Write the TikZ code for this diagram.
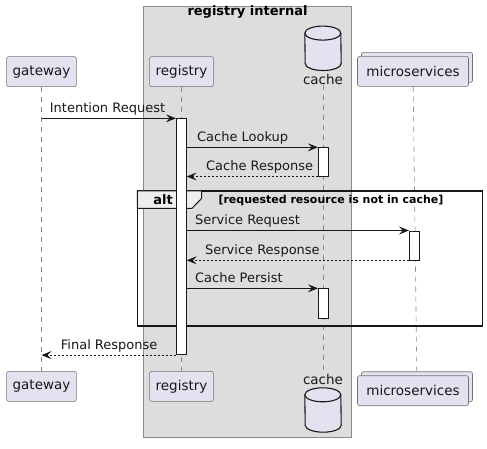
\documentclass[tikz,border=0pt]{standalone}
\usepackage{fontspec}
\setmainfont{DejaVu Sans}
\usetikzlibrary{arrows.meta,positioning}
\definecolor{cPart}{HTML}{E2E2F0}
\definecolor{cInk}{HTML}{181818}
\definecolor{cGroup}{HTML}{DDDDDD}
\definecolor{cTab}{HTML}{EEEEEE}
\definecolor{cLine}{HTML}{8A8A8A}
\tikzset{
  part/.style={draw=cInk!60,fill=cPart,rounded corners=2pt,line width=0.6pt,font=\fontsize{13.5}{16}\selectfont,minimum height=30pt,inner xsep=6pt,inner ysep=0pt,text=cInk},
  dbase/.style={minimum width=36pt,minimum height=44pt,inner sep=0pt},
  drum/.style={draw=cInk,fill=cPart,line width=1.1pt},
  dblbl/.style={font=\fontsize{13.5}{16}\selectfont,inner sep=0pt,text=cInk},
  life/.style={draw=cLine,dash pattern=on 5pt off 5pt,line width=0.6pt},
  act/.style={draw=cInk,fill=white,line width=0.8pt,minimum width=10pt,inner sep=0pt,anchor=north},
  msg/.style={-{Stealth[length=10pt,width=8pt,inset=4pt]},line width=0.8pt,draw=cInk},
  ret/.style={msg,dash pattern=on 2pt off 2pt},
  lbl/.style={font=\fontsize{13}{15}\selectfont,anchor=base west,inner sep=0pt,text=cInk},
}
% database drum drawn round a named node
\newcommand\drumat[1]{%
  \filldraw[drum] ([yshift=-7pt]#1.north west) arc[start angle=180,end angle=0,x radius=18pt,y radius=7pt]
    -- ([yshift=7pt]#1.south east) arc[start angle=0,end angle=-180,x radius=18pt,y radius=7pt] -- cycle;
  \draw[drum,fill=none] ([yshift=-7pt]#1.north west) arc[start angle=180,end angle=360,x radius=18pt,y radius=7pt];}

\begin{document}
\begin{tikzpicture}[x=1pt,y=-1pt]
  \useasboundingbox (0,0) rectangle (487,449);
  % registry internal box
  \draw[fill=cGroup,draw=cLine,line width=0.8pt] (143.3,6) rectangle (351.7,437.3);
  \node[font=\fontsize{13}{15}\selectfont\bfseries,anchor=base,inner sep=0pt] (grptitle) at (247.5,15.5) {registry internal};

  % participants, top and bottom
  \node[part] (gwtop) at (41.5,71.7) {gateway};
  \node[part] (gwbot) at (41.5,386.4) {gateway};
  \node[part] (regtop) at (181.5,71.7) {registry};
  \node[part] (regbot) at (181.5,386.4) {registry};
  \node[dbase] (cachetop) at (323,48.3) {};
  \drumat{cachetop}
  \node[dblbl,below=3.5pt of cachetop] (cachetoplbl) {cache};
  \node[dbase] (cachebot) at (323,410) {};
  \drumat{cachebot}
  \node[dblbl,above=3.4pt of cachebot] (cachebotlbl) {cache};
  \node[part,minimum width=111pt] (msback) at (417,67.4) {};
  \node[part,minimum width=111pt] (mstop) at (413,71.4) {microservices};
  \node[part,minimum width=111pt] (msbback) at (417,386.7) {};
  \node[part,minimum width=111pt] (msbot) at (413,390.7) {microservices};

  % lifelines
  \draw[life] (gwtop) -- (gwbot);
  \draw[life] (regtop) -- (regbot);
  \draw[life] (cachetoplbl) -- (cachebotlbl);
  \draw[life] (mstop) -- (msbback);

  % alt frame
  \draw[line width=1.5pt,draw=cInk] (137.3,191) rectangle (482.7,326);
  \filldraw[fill=cTab,draw=cInk,line width=1pt] (137.3,191) -- (201.7,191) -- (201.7,198.3) -- (192,208.3) -- (137.3,208.3) -- cycle;
  \node[font=\fontsize{13}{15}\selectfont\bfseries,anchor=base,inner sep=0pt] (alttag) at (163,204.3) {alt};
  \node[font=\fontsize{11}{13}\selectfont\bfseries,anchor=base west,inner sep=0pt] (altcond) at (218.3,204) {[requested resource is not in cache]};

  % activations
  \node[act,minimum height=236pt] (regact) at (181.3,118.3) {};
  \node[act,minimum height=28.4pt] (cact1) at (323.3,147.3) {};
  \node[act,minimum height=29pt] (msact) at (414.3,230.5) {};
  \node[act,minimum height=30pt] (cact2) at (323.3,288.3) {};

  % messages
  \draw[msg] (gwtop |- regact.north west) -- node[lbl,pos=0,xshift=8pt,yshift=6pt] (m1) {Intention Request} (regact.north west);
  \draw[msg] (regact.east |- cact1.north west) -- node[lbl,pos=0,xshift=10pt,yshift=6pt] (m2) {Cache Lookup} (cact1.north west);
  \draw[ret] (cact1.south west) -- node[lbl,pos=1,xshift=19pt,yshift=6pt] (m3) {Cache Response} (regact.east |- cact1.south west);
  \draw[msg] (regact.east |- msact.north west) -- node[lbl,pos=0,xshift=8pt,yshift=6pt] (m4) {Service Request} (msact.north west);
  \draw[ret] (msact.south west) -- node[lbl,pos=1,xshift=18pt,yshift=6pt] (m5) {Service Response} (regact.east |- msact.south west);
  \draw[msg] (regact.east |- cact2.north west) -- node[lbl,pos=0,xshift=8pt,yshift=6pt] (m6) {Cache Persist} (cact2.north west);
  \draw[ret] (regact.south west) -- node[lbl,pos=1,xshift=19pt,yshift=6pt] (m7) {Final Response} (gwtop |- regact.south west);
\end{tikzpicture}
\end{document}
